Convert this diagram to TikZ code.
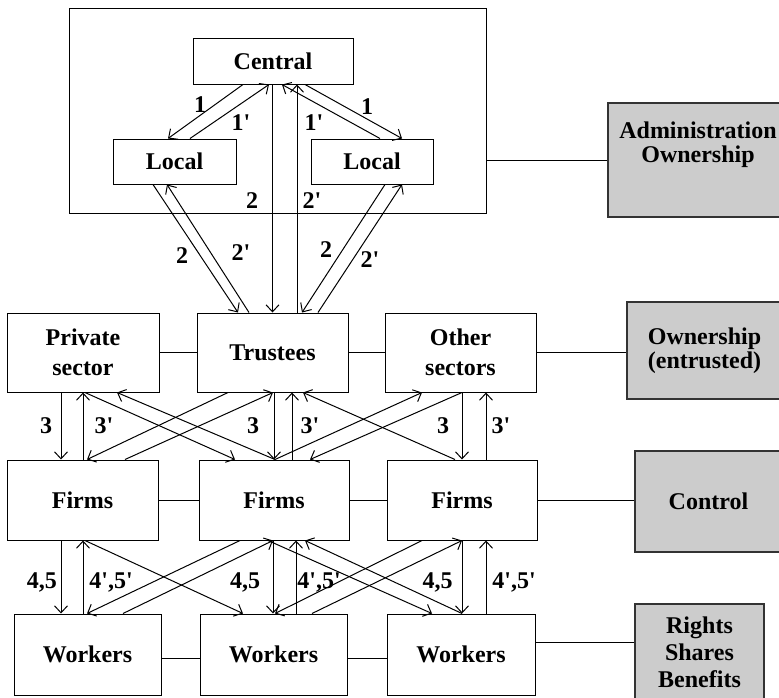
\documentclass[tikz,border=0pt]{standalone}
\usepackage{fontspec}
\setmainfont{Liberation Serif}
\usetikzlibrary{arrows.meta}
\newcommand\tq{\textquotesingle}
\begin{document}
\begin{tikzpicture}[x=1pt,y=-1pt,
  box/.style={draw, fill=white, line width=1pt, inner sep=0pt, align=center, font=\bfseries\fontsize{24}{30}\selectfont},
  side/.style={draw=black!80, fill=gray!40, line width=1.2pt, inner sep=0pt, align=center, font=\bfseries\fontsize{24}{24}\selectfont},
  lab/.style={anchor=base, inner sep=0pt, font=\bfseries\fontsize{24}{26}\selectfont},
  arr/.style={line width=1pt, -{Straight Barb[length=7pt,width=13pt]}},
  ln/.style={line width=1pt}
]
\useasboundingbox (0,0) rectangle (779,697);
\fill[white] (0,0) rectangle (779,697);

% outer administration frame
\node[box, minimum width=417pt, minimum height=205pt] (outer) at (277.5,110.5) {};

\node[box, minimum width=160pt, minimum height=46pt] (central) at (273,61) {Central};
\node[box, minimum width=123pt, minimum height=45pt] (locl) at (174.5,161.5) {Local};
\node[box, minimum width=122pt, minimum height=45pt] (locr) at (372,161.5) {Local};

\node[box, minimum width=152pt, minimum height=79pt] (priv) at (83,352.5) {Private\\sector};
\node[box, minimum width=151pt, minimum height=79pt] (trus) at (272.5,352.5) {Trustees};
\node[box, minimum width=151pt, minimum height=79pt] (oth) at (460.5,352.5) {Other\\sectors};

\node[box, minimum width=151pt, minimum height=80pt] (f1) at (82.5,500) {Firms};
\node[box, minimum width=150pt, minimum height=80pt] (f2) at (274,500) {Firms};
\node[box, minimum width=150pt, minimum height=80pt] (f3) at (462,500) {Firms};

\node[box, minimum width=147pt, minimum height=81pt] (w1) at (87.5,654.5) {Workers};
\node[box, minimum width=147pt, minimum height=81pt] (w2) at (273.5,654.5) {Workers};
\node[box, minimum width=148pt, minimum height=81pt] (w3) at (461,654.5) {Workers};

% side boxes
\node[side, minimum width=174pt, minimum height=114pt] (adm) at (695,160) {};
\node[align=center, inner sep=0pt, font=\bfseries\fontsize{24}{24}\selectfont] (admtxt) at (698,145) {Administration\\Ownership};
\node[side, minimum width=155pt, minimum height=97pt] (own) at (704.5,350.5) {Ownership\\(entrusted)};
\node[side, minimum width=147pt, minimum height=101pt] (ctl) at (708.5,501.5) {Control};
\node[side, minimum width=129pt, minimum height=96pt, font=\bfseries\fontsize{24}{27}\selectfont] (rig) at (699.5,652) {Rights\\Shares\\Benefits};

% plain connectors
\draw[ln] (adm.west) -- (adm.west -| outer.east);
\draw[ln] (priv.east) -- (trus.west);
\draw[ln] (trus.east) -- (oth.west);
\draw[ln] (oth.east) -- (oth.east -| own.west);
\draw[ln] (f1.east) -- (f2.west);
\draw[ln] (f2.east) -- (f3.west);
\draw[ln] (f3.east) -- (f3.east -| ctl.west);
\draw[ln] ([yshift=-3.5pt]w1.east) -- ([yshift=-3.5pt]w2.west);
\draw[ln] ([yshift=-3.5pt]w2.east) -- ([yshift=-3.5pt]w3.west);
\draw[ln] ([yshift=10pt]rig.west) -- ([yshift=10pt]rig.west -| w3.east);

% level 1
\draw[arr] ([xshift=-30pt]central.south) -- ([xshift=-6.5pt]locl.north);
\draw[arr] ([xshift=15.5pt]locl.north) -- ([xshift=-4pt]central.south);
\draw[arr] ([xshift=32pt]central.south) -- ([xshift=30pt]locr.north);
\draw[arr] ([xshift=8pt]locr.north) -- ([xshift=9pt]central.south);
% level 2
\draw[arr] ([xshift=-0.5pt]central.south) -- (trus.north);
\draw[arr] ([xshift=24.5pt]trus.north) -- ([xshift=24pt]central.south);
\draw[arr] ([xshift=-21.5pt]locl.south) -- ([xshift=-34.5pt]trus.north);
\draw[arr] ([xshift=-23.5pt]trus.north) -- ([xshift=-7.5pt]locl.south);
\draw[arr] ([xshift=13pt]locr.south) -- ([xshift=29.5pt]trus.north);
\draw[arr] ([xshift=45.5pt]trus.north) -- ([xshift=30pt]locr.south);
% level 3
\draw[arr] ([xshift=-22pt]priv.south) -- ([xshift=-21.5pt]f1.north);
\draw[arr] ([xshift=0.5pt]f1.north) -- (priv.south);
\draw[arr] ([xshift=2pt]priv.south) -- ([xshift=-39pt]f2.north);
\draw[arr] ([xshift=1pt]f2.north) -- ([xshift=34pt]priv.south);
\draw[arr] ([xshift=-44.5pt]trus.south) -- ([xshift=4.5pt]f1.north);
\draw[arr] ([xshift=42.5pt]f1.north) -- ([xshift=0.5pt]trus.south);
\draw[arr] ([xshift=1.5pt]trus.south) -- (f2.north);
\draw[arr] ([xshift=18pt]f2.north) -- ([xshift=19.5pt]trus.south);
\draw[arr] ([xshift=-7pt]f3.north) -- ([xshift=30.5pt]trus.south);
\draw[arr] ([xshift=1pt]f2.north) -- ([xshift=-38.5pt]oth.south);
\draw[arr] ([xshift=1.5pt]oth.south) -- ([xshift=36pt]f2.north);
\draw[arr] ([xshift=1.5pt]oth.south) -- (f3.north);
\draw[arr] ([xshift=24pt]f3.north) -- ([xshift=25.5pt]oth.south);
% level 4
\draw[arr] ([xshift=-21.5pt]f1.south) -- ([xshift=-26.5pt]w1.north);
\draw[arr] ([xshift=-4.5pt]w1.north) -- ([xshift=0.5pt]f1.south);
\draw[arr] ([xshift=2.5pt]f1.south) -- ([xshift=-30.5pt]w2.north);
\draw[arr] ([xshift=-34pt]f2.south) -- ([xshift=-0.5pt]w1.north);
\draw[arr] ([xshift=35.5pt]w1.north) -- ([xshift=-1pt]f2.south);
\draw[arr] ([xshift=-1pt]f2.south) -- ([xshift=-0.5pt]w2.north);
\draw[arr] ([xshift=22.5pt]w2.north) -- ([xshift=22pt]f2.south);
\draw[arr] ([xshift=-6pt]f2.south) -- ([xshift=-29pt]w3.north);
\draw[arr] ([xshift=1pt]w3.north) -- ([xshift=31pt]f2.south);
\draw[arr] ([xshift=-40pt]f3.south) -- ([xshift=1.5pt]w2.north);
\draw[arr] ([xshift=38.5pt]w2.north) -- (f3.south);
\draw[arr] (f3.south) -- ([xshift=1pt]w3.north);
\draw[arr] ([xshift=25pt]w3.north) -- ([xshift=24pt]f3.south);

% labels
\node[lab] (l1a) at (200,112) {1};
\node[lab] (l1b) at (241,130) {1\tq};
\node[lab] (l1c) at (314,130) {1\tq};
\node[lab] (l1d) at (367,114) {1};
\node[lab] (l2a) at (252,208) {2};
\node[lab] (l2b) at (312,208) {2\tq};
\node[lab] (l2c) at (182,263) {2};
\node[lab] (l2d) at (241,260) {2\tq};
\node[lab] (l2e) at (326,257) {2};
\node[lab] (l2f) at (370,267) {2\tq};
\node[lab] (l3a) at (46,433) {3};
\node[lab] (l3b) at (104,433) {3\tq};
\node[lab] (l3c) at (253,433) {3};
\node[lab] (l3d) at (310,433) {3\tq};
\node[lab] (l3e) at (443,433) {3};
\node[lab] (l3f) at (501,433) {3\tq};
\node[lab] (l4a) at (42,588) {4,5};
\node[lab] (l4b) at (111,588) {4\tq,5\tq};
\node[lab] (l4c) at (245,588) {4,5};
\node[lab] (l4d) at (319,588) {4\tq,5\tq};
\node[lab] (l4e) at (437.5,588) {4,5};
\node[lab] (l4f) at (514,588) {4\tq,5\tq};
\end{tikzpicture}
\end{document}
